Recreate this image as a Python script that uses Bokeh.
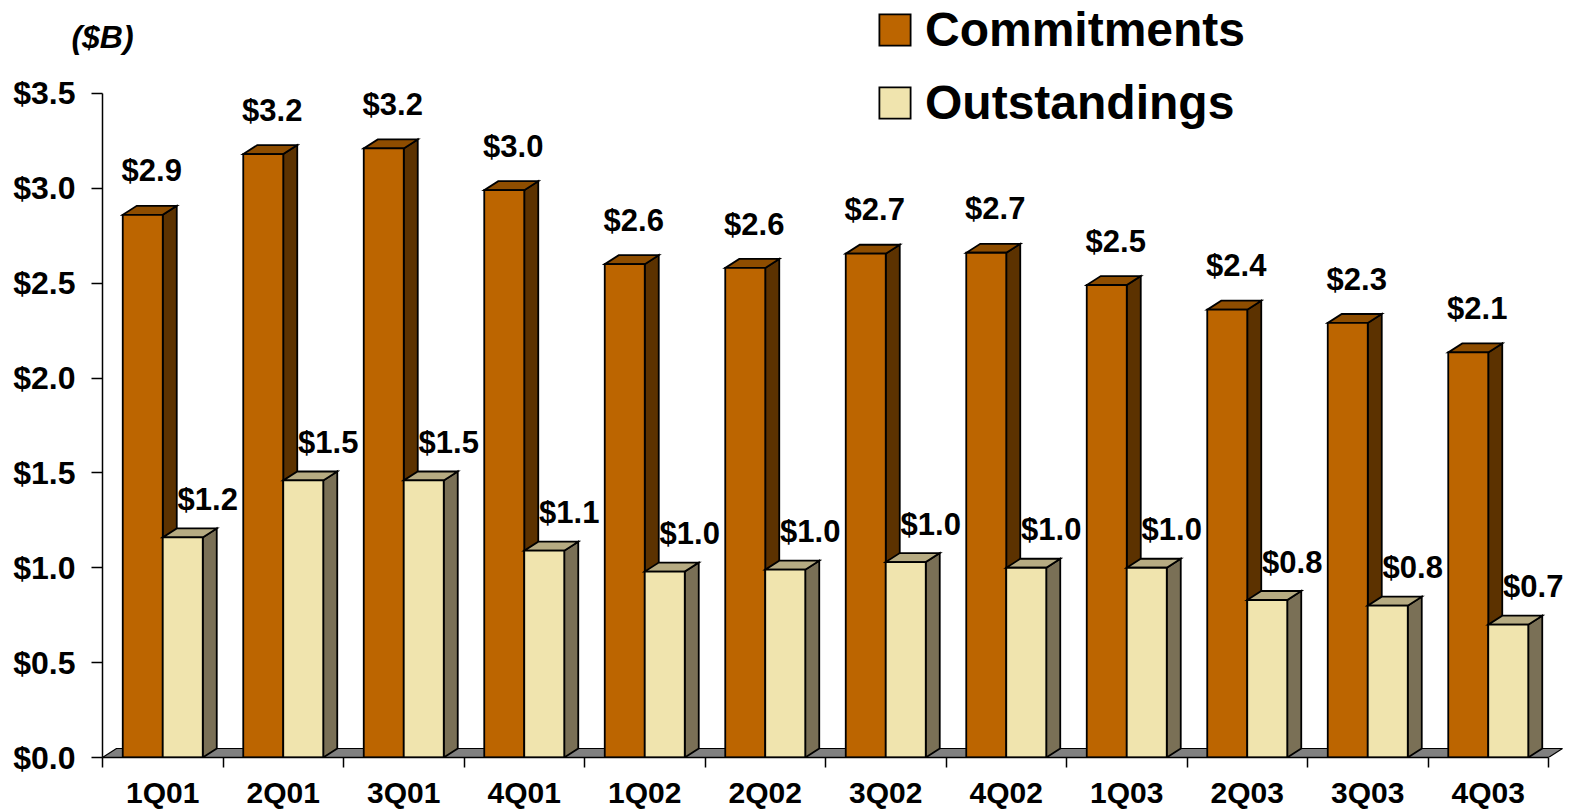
from bokeh.plotting import figure
from bokeh.models import (Range1d, LinearAxis, FixedTicker, PrintfTickFormatter,
                          CustomJSTickFormatter, Legend, LegendItem, ColumnDataSource)
from bokeh.core.properties import value
from bokeh.embed import file_html
from bokeh.resources import INLINE

# ---------------- data ----------------
quarters = ["1Q01", "2Q01", "3Q01", "4Q01", "1Q02", "2Q02",
            "3Q02", "4Q02", "1Q03", "2Q03", "3Q03", "4Q03"]
commitments = [2.86, 3.18, 3.21, 2.99, 2.60, 2.58, 2.655, 2.66, 2.49, 2.36, 2.29, 2.135]
outstandings = [1.16, 1.46, 1.46, 1.09, 0.98, 0.99, 1.03, 1.00, 1.00, 0.83, 0.80, 0.70]
y_ticks = [0.0, 0.5, 1.0, 1.5, 2.0, 2.5, 3.0, 3.5]
series_names = ["Commitments", "Outstandings"]
unit_label = "($B)"

# ---------------- geometry / style ----------------
W, H = 1585, 811
LEFT, BOTTOM = 102, 53
PX_X = 120.5          # pixels per category
PX_Y = 190.0          # pixels per $1B
BAR = 40 / PX_X       # bar width in category units
DX = 14 / PX_X        # 3-D depth offset
DY = 9 / PX_Y
FONT = "Liberation Sans"

C_FRONT, C_SIDE, C_TOP = "#BC6500", "#5C3200", "#8E4D00"
O_FRONT, O_SIDE, O_TOP = "#F0E4AE", "#7A7056", "#B6AB82"
FLOOR = "#808080"
LW = 1.8

n = len(quarters)
x_end = (W - LEFT) / PX_X
y_end = (H - BOTTOM) / PX_Y

p = figure(width=W, height=H, output_backend="svg", toolbar_location=None,
           x_range=Range1d(0, x_end), y_range=Range1d(0, y_end),
           min_border_left=LEFT, min_border_bottom=BOTTOM,
           min_border_top=0, min_border_right=0)
p.outline_line_color = None
p.xgrid.visible = False
p.ygrid.visible = False
p.background_fill_color = "white"
p.border_fill_color = "white"

# floor
p.patch([0, n, n + DX, DX], [0, 0, DY, DY], fill_color=FLOOR,
        line_color="black", line_width=1.2)


def bar_parts(x0s, vals):
    sx, sy, tx, ty = [], [], [], []
    for x0, v in zip(x0s, vals):
        x1 = x0 + BAR
        sx.append([x1, x1 + DX, x1 + DX, x1])
        sy.append([0, DY, v + DY, v])
        tx.append([x0, x1, x1 + DX, x0 + DX])
        ty.append([v, v, v + DY, v + DY])
    return sx, sy, tx, ty


centers = [i + 0.5 for i in range(n)]
c_left = [c - BAR for c in centers]
o_left = [c for c in centers]

renderers = []
for lefts, vals, (front, side, top) in [
        (c_left, commitments, (C_FRONT, C_SIDE, C_TOP)),
        (o_left, outstandings, (O_FRONT, O_SIDE, O_TOP))]:
    sx, sy, tx, ty = bar_parts(lefts, vals)
    p.patches(sx, sy, fill_color=side, line_color="black", line_width=LW,
              line_join="miter")
    p.patches(tx, ty, fill_color=top, line_color="black", line_width=LW,
              line_join="miter")
    src = ColumnDataSource(dict(left=lefts, right=[l + BAR for l in lefts],
                                top=vals, bottom=[0] * n))
    r = p.quad(left="left", right="right", top="top", bottom="bottom", source=src,
               fill_color=front, line_color="black", line_width=LW,
               line_join="miter")
    renderers.append(r)

# data labels
lab_src = ColumnDataSource(dict(
    x=[c - BAR / 2 + 9 / PX_X for c in centers] + [c + BAR / 2 + 25 / PX_X for c in centers],
    y=[v + 44 / PX_Y for v in commitments] + [v + 38 / PX_Y for v in outstandings],
    t=["$%.1f" % v for v in commitments] + ["$%.1f" % v for v in outstandings]))
p.text(x="x", y="y", text="t", source=lab_src, text_font=value(FONT),
       text_font_style="bold", text_font_size="31px", text_align="center",
       text_baseline="alphabetic", text_color="black")

# y axis
ya = p.yaxis[0]
ya.ticker = FixedTicker(ticks=y_ticks)
ya.formatter = PrintfTickFormatter(format="$%.1f")
ya.bounds = (0, 3.5)
ya.major_tick_out = 11
ya.major_tick_in = 0
ya.minor_tick_line_color = None
ya.axis_line_width = 1.5
ya.major_tick_line_width = 1.5
ya.major_label_standoff = 16
ya.major_label_text_font = FONT
ya.major_label_text_font_style = "bold"
ya.major_label_text_font_size = "32px"
ya.major_label_text_color = "black"

# x axis: tick marks at category boundaries (no labels)
xa = p.xaxis[0]
xa.ticker = FixedTicker(ticks=list(range(n + 1)))
xa.formatter = CustomJSTickFormatter(code="return '';")
xa.bounds = (0, n)
xa.major_tick_out = 10
xa.major_tick_in = 0
xa.minor_tick_line_color = None
xa.axis_line_width = 1.5
xa.major_tick_line_width = 1.5
xa.major_label_text_font_size = "1px"
xa.major_label_standoff = 0

# x axis: category names at centres
xl = LinearAxis(ticker=FixedTicker(ticks=centers),
                formatter=CustomJSTickFormatter(args=dict(labels=quarters),
                                                code="return labels[Math.floor(tick)] || '';"))
xl.axis_line_color = None
xl.major_tick_line_color = None
xl.minor_tick_line_color = None
xl.major_tick_out = 0
xl.major_tick_in = 0
xl.major_label_standoff = 8
xl.major_label_text_font = FONT
xl.major_label_text_font_style = "bold"
xl.major_label_text_font_size = "30px"
xl.major_label_text_color = "black"
p.add_layout(xl, "below")

# unit label "($B)" carried by a bare axis on top (not clipped by the frame)
ua = LinearAxis(ticker=FixedTicker(ticks=[0.0]),
                formatter=CustomJSTickFormatter(args=dict(t=unit_label),
                                                code="return t;"))
ua.axis_line_color = None
ua.major_tick_line_color = None
ua.minor_tick_line_color = None
ua.major_tick_out = 0
ua.major_tick_in = 0
ua.major_label_standoff = -54
ua.major_label_text_font = FONT
ua.major_label_text_font_style = "bold italic"
ua.major_label_text_font_size = "32px"
ua.major_label_text_color = "black"
p.add_layout(ua, "above")

legend = Legend(items=[LegendItem(label=series_names[0], renderers=[renderers[0]]),
                       LegendItem(label=series_names[1], renderers=[renderers[1]])],
                location=(773, 627))
legend.label_text_font = FONT
legend.label_text_font_style = "bold"
legend.label_text_font_size = "48px"
legend.label_text_color = "black"
legend.glyph_width = 39
legend.glyph_height = 39
legend.label_standoff = 11
legend.spacing = 18
legend.padding = 0
legend.margin = 0
legend.border_line_color = None
legend.background_fill_alpha = 0
p.add_layout(legend)

open("out.html", "w").write(file_html(p, INLINE))
